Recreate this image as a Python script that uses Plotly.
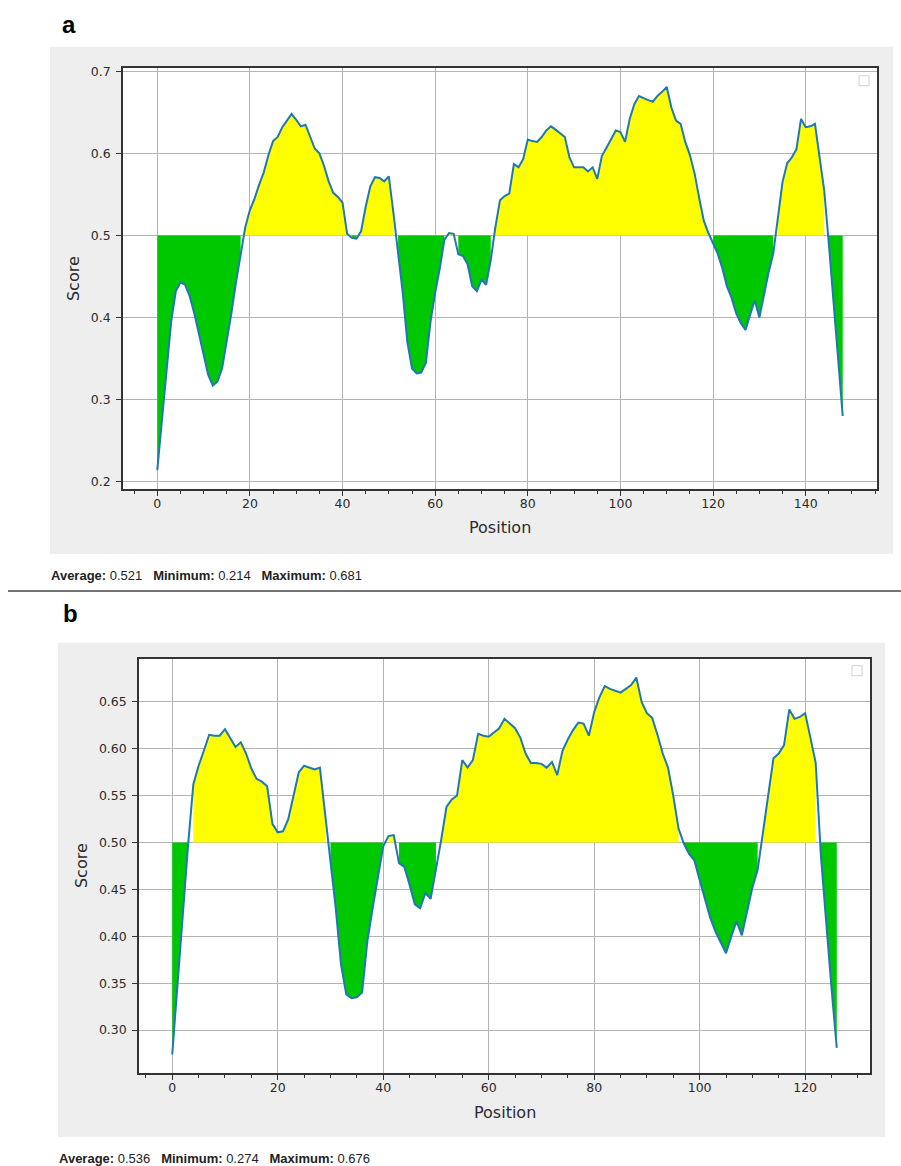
import plotly.graph_objects as go

W, H = 901, 1166

# ---------------- data ----------------
pos_a = list(range(149))
score_a = [
    0.214, 0.275, 0.335, 0.395, 0.432, 0.443, 0.440, 0.426, 0.405, 0.380,
    0.352, 0.330, 0.317, 0.322, 0.338, 0.370, 0.405, 0.443, 0.478, 0.510,
    0.531, 0.545, 0.562, 0.577, 0.598, 0.615, 0.620, 0.632, 0.640, 0.648,
    0.641, 0.633, 0.635, 0.620, 0.606, 0.600, 0.585, 0.566, 0.552, 0.547,
    0.540, 0.502, 0.497, 0.496, 0.505, 0.535, 0.560, 0.571, 0.570, 0.566,
    0.572, 0.527, 0.480, 0.430, 0.370, 0.338, 0.332, 0.333, 0.345, 0.395,
    0.430, 0.460, 0.495, 0.503, 0.502, 0.477, 0.475, 0.465, 0.438, 0.432,
    0.446, 0.440, 0.470, 0.510, 0.543, 0.548, 0.551, 0.587, 0.583, 0.593,
    0.617, 0.615, 0.614, 0.620, 0.628, 0.633, 0.629, 0.624, 0.620, 0.595,
    0.583, 0.583, 0.583, 0.578, 0.583, 0.569, 0.597, 0.607, 0.618, 0.628,
    0.626, 0.614, 0.642, 0.660, 0.670, 0.667, 0.665, 0.663, 0.670, 0.675,
    0.681, 0.656, 0.640, 0.636, 0.614, 0.598, 0.576, 0.546, 0.518, 0.503,
    0.490, 0.478, 0.460, 0.438, 0.424, 0.405, 0.393, 0.385, 0.403, 0.421,
    0.400, 0.428, 0.455, 0.478, 0.522, 0.565, 0.588, 0.595, 0.605, 0.642,
    0.632, 0.633, 0.636, 0.595, 0.555, 0.490, 0.420, 0.350, 0.280,
]

pos_b = list(range(127))
score_b = [
    0.274, 0.350, 0.425, 0.497, 0.562, 0.582, 0.598, 0.615, 0.614, 0.614,
    0.621, 0.611, 0.602, 0.607, 0.595, 0.579, 0.568, 0.565, 0.560, 0.520,
    0.511, 0.512, 0.525, 0.550, 0.575, 0.582, 0.580, 0.578, 0.580, 0.528,
    0.480, 0.430, 0.370, 0.338, 0.334, 0.335, 0.340, 0.395, 0.430, 0.465,
    0.496, 0.507, 0.508, 0.478, 0.474, 0.455, 0.434, 0.430, 0.446, 0.440,
    0.470, 0.503, 0.538, 0.546, 0.550, 0.588, 0.580, 0.588, 0.616, 0.614,
    0.613, 0.618, 0.622, 0.632, 0.627, 0.622, 0.612, 0.595, 0.585, 0.585,
    0.584, 0.580, 0.586, 0.572, 0.598, 0.610, 0.620, 0.628, 0.627, 0.614,
    0.639, 0.655, 0.667, 0.664, 0.662, 0.660, 0.664, 0.668, 0.676, 0.650,
    0.638, 0.633, 0.615, 0.595, 0.580, 0.550, 0.515, 0.499, 0.488, 0.481,
    0.460, 0.440, 0.420, 0.405, 0.393, 0.382, 0.400, 0.416, 0.401, 0.428,
    0.452, 0.471, 0.512, 0.549, 0.590, 0.595, 0.604, 0.642, 0.632, 0.634,
    0.638, 0.612, 0.585, 0.485, 0.410, 0.345, 0.281,
]

threshold = 0.5
stats_labels = ["Average:", "Minimum:", "Maximum:"]
stats_a = ["0.521", "0.214", "0.681"]
stats_b = ["0.536", "0.274", "0.676"]
panel_labels = ["a", "b"]
x_title = "Position"
y_title = "Score"

# ---------------- helpers ----------------
def px(x):
    return x / W

def py(y):
    return 1 - y / H

def runs(xs, ys, cond):
    ox, oy = [], []
    n = len(xs)
    i = 0
    while i < n:
        if cond(ys[i]):
            j = i
            while j + 1 < n and cond(ys[j + 1]):
                j += 1
            rx = list(xs[i:j + 1])
            ry = list(ys[i:j + 1])
            ox += rx + rx[::-1] + [None]
            oy += ry + [threshold] * len(rx) + [None]
            i = j + 1
        else:
            i += 1
    return ox, oy

FONT = "DejaVu Sans"
TXT = "#2b2b2b"

fig = go.Figure()

panels = [
    dict(x=pos_a, y=score_a, xa="x", ya="y"),
    dict(x=pos_b, y=score_b, xa="x2", ya="y2"),
]

for p in panels:
    yx, yy = runs(p["x"], p["y"], lambda v: v > threshold)
    gx, gy = runs(p["x"], p["y"], lambda v: v < threshold)
    fig.add_trace(go.Scatter(x=yx, y=yy, fill="toself", fillcolor="#ffff00",
                             mode="lines", line=dict(width=0, color="#ffff00"),
                             xaxis=p["xa"], yaxis=p["ya"], hoverinfo="skip"))
    fig.add_trace(go.Scatter(x=gx, y=gy, fill="toself", fillcolor="#00c800",
                             mode="lines", line=dict(width=0, color="#00c800"),
                             xaxis=p["xa"], yaxis=p["ya"], hoverinfo="skip"))
    fig.add_trace(go.Scatter(x=p["x"], y=p["y"], mode="lines",
                             line=dict(color="#1f77b4", width=2),
                             xaxis=p["xa"], yaxis=p["ya"]))

def axis_common():
    return dict(showline=True, mirror=True, linecolor="#333333", linewidth=1.5,
                ticks="outside", ticklen=5, tickwidth=1.2, tickcolor="#333333",
                showgrid=True, gridcolor="#b4b4b4", gridwidth=1, zeroline=False,
                tickfont=dict(family=FONT, size=12.5, color=TXT))

# plot area boxes (px)
A = dict(l=123, r=877, t=64, b=487)
B = dict(l=139, r=870, t=657, b=1073)

def xr(xs):
    m = (max(xs) - min(xs)) * 0.05
    return [min(xs) - m, max(xs) + m]

xaxis = axis_common()
xaxis.update(domain=[px(A["l"]), px(A["r"])], anchor="y", range=xr(pos_a),
             tick0=0, dtick=20, ticklabelstandoff=-3,
             minor=dict(dtick=5, tick0=0, ticks="outside", ticklen=3,
                        tickcolor="#333333", showgrid=False))
yaxis = axis_common()
yaxis.update(domain=[py(A["b"]), py(A["t"])], anchor="x", range=xr(score_a),
             tick0=0, dtick=0.1, tickformat=".1f", ticklabelstandoff=3)
xaxis2 = axis_common()
xaxis2.update(domain=[px(B["l"]), px(B["r"])], anchor="y2", range=xr(pos_b),
              tick0=0, dtick=20, ticklabelstandoff=-3,
              minor=dict(dtick=5, tick0=0, ticks="outside", ticklen=3,
                         tickcolor="#333333", showgrid=False))
yaxis2 = axis_common()
yaxis2.update(domain=[py(B["b"]), py(B["t"])], anchor="x2", range=xr(score_b),
              tick0=0, dtick=0.05, tickformat=".2f", ticklabelstandoff=3)

shapes = []
# gray figure backgrounds
for (l, t, r, b) in [(50, 43, 893, 552), (58, 641, 885, 1137)]:
    shapes.append(dict(type="rect", xref="paper", yref="paper", layer="below",
                       x0=px(l), x1=px(r), y0=py(b), y1=py(t),
                       fillcolor="#eeeeee", line=dict(width=0)))
# white plot areas
for xa, ya in [("x", "y"), ("x2", "y2")]:
    shapes.append(dict(type="rect", xref=xa + " domain", yref=ya + " domain",
                       layer="below", x0=0, x1=1, y0=0, y1=1,
                       fillcolor="white", line=dict(width=0)))
# empty legend boxes
for (cx, cy) in [(864, 77), (857, 669)]:
    shapes.append(dict(type="rect", xref="paper", yref="paper", layer="above",
                       x0=px(cx - 5), x1=px(cx + 5), y0=py(cy + 5), y1=py(cy - 5),
                       fillcolor="white", line=dict(width=1, color="#d0d0d0")))
# divider line
shapes.append(dict(type="line", xref="paper", yref="paper",
                   x0=px(8), x1=1, y0=py(589), y1=py(589),
                   line=dict(color="#444444", width=1.5)))

SP = "\u00a0\u00a0\u00a0"
def stats_text(vals):
    return SP.join(f"<b>{lab}</b> {v}" for lab, v in zip(stats_labels, vals))

annotations = [
    dict(text=f"<b>{panel_labels[0]}</b>", x=px(60), y=py(21), xref="paper", yref="paper",
         xanchor="left", yanchor="middle", showarrow=False,
         font=dict(family="Liberation Sans", size=24, color="black")),
    dict(text=f"<b>{panel_labels[1]}</b>", x=px(61), y=py(612), xref="paper", yref="paper",
         xanchor="left", yanchor="middle", showarrow=False,
         font=dict(family="Liberation Sans", size=24, color="black")),
    dict(text=x_title, x=px(500), y=py(525), xref="paper", yref="paper",
         xanchor="center", yanchor="middle", showarrow=False,
         font=dict(family=FONT, size=16, color=TXT)),
    dict(text=y_title, x=px(73), y=py(276), xref="paper", yref="paper", textangle=-90,
         xanchor="center", yanchor="middle", showarrow=False,
         font=dict(family=FONT, size=16, color=TXT)),
    dict(text=x_title, x=px(504.5), y=py(1112), xref="paper", yref="paper",
         xanchor="center", yanchor="middle", showarrow=False,
         font=dict(family=FONT, size=16, color=TXT)),
    dict(text=y_title, x=px(81), y=py(865), xref="paper", yref="paper", textangle=-90,
         xanchor="center", yanchor="middle", showarrow=False,
         font=dict(family=FONT, size=16, color=TXT)),
    dict(text=stats_text(stats_a), x=px(49), y=py(573), xref="paper", yref="paper",
         xanchor="left", yanchor="middle", showarrow=False,
         font=dict(family="Liberation Sans", size=13, color="#222222")),
    dict(text=stats_text(stats_b), x=px(57), y=py(1158), xref="paper", yref="paper",
         xanchor="left", yanchor="middle", showarrow=False,
         font=dict(family="Liberation Sans", size=13, color="#222222")),
]

fig.update_layout(
    width=W, height=H, margin=dict(l=0, r=0, t=0, b=0),
    paper_bgcolor="white", plot_bgcolor="white", showlegend=False,
    xaxis=xaxis, yaxis=yaxis, xaxis2=xaxis2, yaxis2=yaxis2,
    shapes=shapes, annotations=annotations,
)

fig.write_html("out.html")
